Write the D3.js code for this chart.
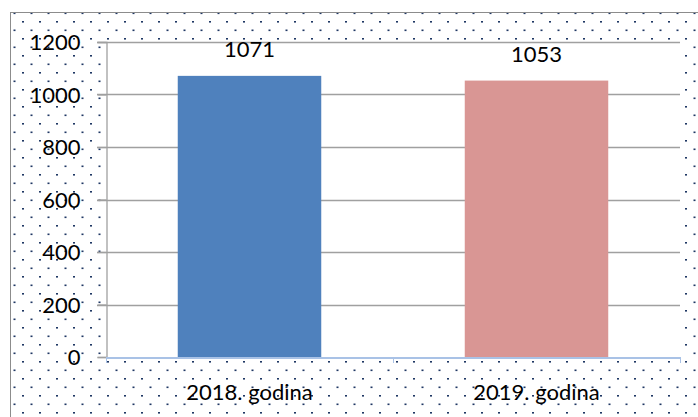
<!DOCTYPE html>
<html>
<head>
<meta charset="utf-8">
<script src="https://cdn.jsdelivr.net/npm/d3@7"></script>
<style>
  body { margin: 0; background: #fff; }
  text { font-family: Lato, "Open Sans", sans-serif; fill: #000; }
</style>
</head>
<body>
<div id="chart"></div>
<script>
// Chart data
const categories = ["2018. godina", "2019. godina"];
const values = [1071, 1053];
const yTicks = [0, 200, 400, 600, 800, 1000, 1200];

// Colors
const BAR_COLORS = ["#4f81bd", "#d99694"];
const DOT_COLOR = "#1f3864";
const GRID_COLOR = "#a0a0a0";
const FONT = "Lato, 'Open Sans', sans-serif";
const FONT_SIZE = 22;

const width = 698, height = 417;
const plot = { left: 106, top: 42, right: 680, bottom: 357 };

const svg = d3.select("#chart").append("svg")
  .attr("width", width)
  .attr("height", height);

// dotted fill of the chart area
const defs = svg.append("defs");
const pat = defs.append("pattern")
  .attr("id", "dots")
  .attr("patternUnits", "userSpaceOnUse")
  .attr("width", 17)
  .attr("height", 17)
  .attr("x", 5)
  .attr("y", 4);
pat.append("rect").attr("x", 0).attr("y", 0).attr("width", 2).attr("height", 1.6).attr("fill", DOT_COLOR);
pat.append("rect").attr("x", 8.5).attr("y", 8.5).attr("width", 2).attr("height", 1.6).attr("fill", DOT_COLOR);

svg.append("rect")
  .attr("x", 10.5).attr("y", 12.5)
  .attr("width", 700).attr("height", 420)
  .attr("fill", "url(#dots)")
  .attr("stroke", "#8c8c8c")
  .attr("stroke-width", 1);

// white plot area
svg.append("rect")
  .attr("x", plot.left).attr("y", plot.top)
  .attr("width", plot.right - plot.left)
  .attr("height", plot.bottom - plot.top)
  .attr("fill", "#fff");

const x = d3.scaleBand()
  .domain(categories)
  .range([plot.left, plot.right])
  .paddingInner(0.5)
  .paddingOuter(0.25);

const y = d3.scaleLinear()
  .domain([0, 1200])
  .range([plot.bottom, plot.top]);

// gridlines
svg.append("g")
  .selectAll("line")
  .data(yTicks.filter(d => d > 0))
  .join("line")
  .attr("x1", plot.left - 9)
  .attr("x2", plot.right)
  .attr("y1", d => Math.round(y(d)) + 0.5)
  .attr("y2", d => Math.round(y(d)) + 0.5)
  .attr("stroke", GRID_COLOR)
  .attr("stroke-width", 1.3);

// bars
svg.append("g")
  .selectAll("rect")
  .data(values)
  .join("rect")
  .attr("x", (d, i) => x(categories[i]))
  .attr("y", d => y(d))
  .attr("width", x.bandwidth())
  .attr("height", d => plot.bottom - y(d))
  .attr("fill", (d, i) => BAR_COLORS[i]);

// value labels
svg.append("g")
  .selectAll("text")
  .data(values)
  .join("text")
  .attr("x", (d, i) => x(categories[i]) + x.bandwidth() / 2)
  .attr("y", d => y(d) - 19)
  .attr("text-anchor", "middle")
  .attr("font-size", FONT_SIZE)
  .text(d => d);

// y axis
const yAxis = svg.append("g")
  .attr("transform", `translate(${plot.left + 0.5},0)`)
  .call(d3.axisLeft(y).tickValues(yTicks).tickSize(9).tickPadding(17).tickFormat(d3.format("d")));
yAxis.select(".domain").attr("stroke", GRID_COLOR).attr("stroke-width", 1.3);
yAxis.selectAll(".tick line").attr("stroke", GRID_COLOR).attr("stroke-width", 1.3);
yAxis.selectAll("text").attr("font-size", FONT_SIZE).attr("dy", "0.35em").style("font-family", FONT);

// x axis
const xAxis = svg.append("g")
  .attr("transform", `translate(0,${plot.bottom + 0.5})`)
  .call(d3.axisBottom(x).tickSize(0).tickPadding(27));
xAxis.select(".domain").attr("stroke", "#a9c2e6").attr("stroke-width", 2);
xAxis.selectAll("text").attr("font-size", FONT_SIZE).style("font-family", FONT);

// category separator ticks
svg.append("g")
  .selectAll("line")
  .data([plot.left, (plot.left + plot.right) / 2, plot.right])
  .join("line")
  .attr("x1", d => d + 0.5).attr("x2", d => d + 0.5)
  .attr("y1", plot.bottom).attr("y2", plot.bottom + 6)
  .attr("stroke", "#a9c2e6")
  .attr("stroke-width", 1);
</script>
</body>
</html>
